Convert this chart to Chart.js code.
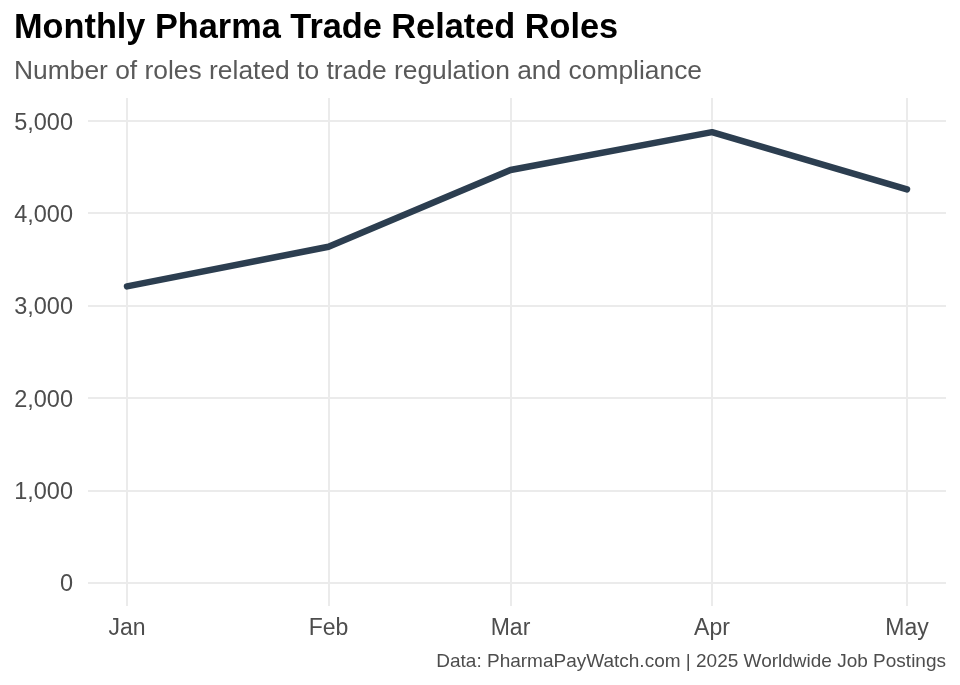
<!DOCTYPE html>
<html>
<head>
<meta charset="utf-8">
<script src="https://cdn.jsdelivr.net/npm/chart.js@4/dist/chart.umd.min.js"></script>
<style>
  html, body { margin: 0; padding: 0; background: #ffffff; }
  #wrap { position: relative; width: 960px; height: 685px; overflow: hidden; font-family: "Liberation Sans", Arial, Helvetica, sans-serif; }
  #title { position: absolute; left: 14px; top: 6px; font-size: 34.3px; line-height: 40px; font-weight: bold; color: #000000; white-space: nowrap; }
  #subtitle { position: absolute; left: 14px; top: 55px; font-size: 26.4px; line-height: 30px; color: #595959; white-space: nowrap; }
  #caption { position: absolute; right: 14px; top: 650px; font-size: 19px; line-height: 22px; color: #4d4d4d; white-space: nowrap; }
  #c { position: absolute; left: 0; top: 0; }
</style>
</head>
<body>
<div id="wrap">
  <canvas id="c" width="960" height="685"></canvas>
  <div id="title">Monthly Pharma Trade Related Roles</div>
  <div id="subtitle">Number of roles related to trade regulation and compliance</div>
  <div id="caption">Data: PharmaPayWatch.com | 2025 Worldwide Job Postings</div>
</div>
<script>
// Data
const months = ['Jan', 'Feb', 'Mar', 'Apr', 'May'];
const dayOfYear = [0, 31, 59, 90, 120];   // first day of each month, 2025
const roles = [3210, 3640, 4470, 4880, 4260];
const yTicks = [0, 1000, 2000, 3000, 4000, 5000];

const points = dayOfYear.map((d, i) => ({ x: d, y: roles[i] }));
const fontFamily = '"Liberation Sans", Arial, Helvetica, sans-serif';

new Chart(document.getElementById('c'), {
  type: 'line',
  data: {
    datasets: [{
      data: points,
      borderColor: '#2c3e50',
      borderWidth: 6.5,
      borderCapStyle: 'round',
      borderJoinStyle: 'round',
      pointRadius: 0,
      pointHoverRadius: 0,
      tension: 0,
      fill: false
    }]
  },
  options: {
    responsive: false,
    animation: false,
    devicePixelRatio: 1,
    layout: { padding: { top: 98, right: 14, bottom: 39, left: 0 } },
    plugins: {
      legend: { display: false },
      tooltip: { enabled: false },
      title: { display: false }
    },
    scales: {
      x: {
        type: 'linear',
        min: -6,
        max: 126,
        afterBuildTicks: (axis) => { axis.ticks = dayOfYear.map(v => ({ value: v })); },
        afterFit: (axis) => { axis.height = 40; },
        ticks: {
          autoSkip: false,
          maxRotation: 0,
          padding: 9,
          color: '#4d4d4d',
          font: { family: fontFamily, size: 23 },
          callback: (value) => { const i = dayOfYear.indexOf(value); return i >= 0 ? months[i] : ''; }
        },
        grid: { color: '#ebebeb', lineWidth: 2, drawTicks: false },
        border: { display: false }
      },
      y: {
        type: 'linear',
        min: -250,
        max: 5250,
        afterBuildTicks: (axis) => { axis.ticks = yTicks.map(v => ({ value: v })); },
        afterFit: (axis) => { axis.width = 88; },
        ticks: {
          padding: 15,
          labelOffset: 2,
          color: '#4d4d4d',
          font: { family: fontFamily, size: 23.5 },
          callback: (value) => value.toLocaleString('en-US')
        },
        grid: { color: '#ebebeb', lineWidth: 2, drawTicks: false },
        border: { display: false }
      }
    }
  }
});
</script>
</body>
</html>
